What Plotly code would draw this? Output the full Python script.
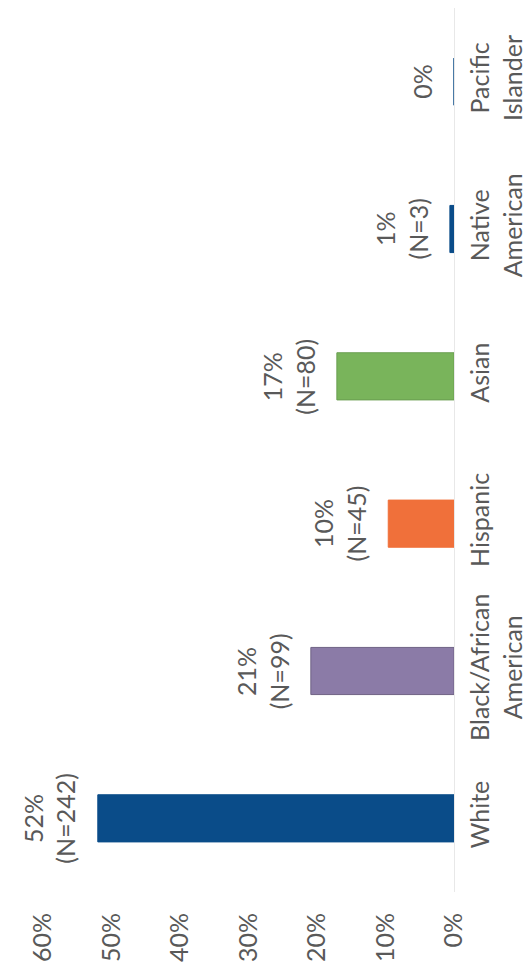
import plotly.graph_objects as go

categories = ["White", "Black/African<br>American", "Hispanic", "Asian", "Native<br>American", "Pacific<br>Islander"]
percent = [52.0, 20.9, 9.6, 17.1, 0.6, 0.0]
counts = [242, 99, 45, 80, 3, 0]
pct_labels = ["52%", "21%", "10%", "17%", "1%", "0%"]
bar_colors = ["#0a4c89", "#8b7ba7", "#f0703a", "#79b45b", "#0a4c89", "#0a4c89"]
line_colors = ["#0a4c89", "#6f6384", "#f0703a", "#6a9e50", "#0a4c89", "#0a4c89"]
tick_vals = [0, 10, 20, 30, 40, 50, 60]
tick_text = ["0%", "10%", "20%", "30%", "40%", "50%", "60%"]

texts = [f"{p}<br>(N={n})" if n > 0 else p for p, n in zip(pct_labels, counts)]

FONT = "Lato"
GRAY = "#595959"
FS = 25

fig = go.Figure(go.Bar(
    x=percent,
    y=categories,
    orientation="h",
    marker=dict(color=bar_colors, line=dict(color=line_colors, width=1)),
    width=0.32,
    hoverinfo="skip",
))

for cat, val, txt in zip(categories, percent, texts):
    fig.add_annotation(
        x=val, y=cat, xref="x", yref="y",
        text=txt, showarrow=False, textangle=-90,
        xanchor="right", yanchor="middle", xshift=-15, align="center",
        font=dict(family=FONT, size=FS, color=GRAY),
    )

fig.update_layout(
    width=532, height=973,
    margin=dict(l=35, r=86, t=0, b=89),
    paper_bgcolor="white", plot_bgcolor="white",
    showlegend=False,
    font=dict(family=FONT, size=FS, color=GRAY),
    xaxis=dict(
        range=[60, 0], tickvals=tick_vals, ticktext=tick_text,
        tickangle=-90, showgrid=False, zeroline=False, showline=False,
        ticks="outside", ticklen=10, tickcolor="rgba(0,0,0,0)",
        tickfont=dict(family=FONT, size=FS, color=GRAY),
        automargin=False, fixedrange=True,
    ),
    yaxis=dict(
        side="right", tickangle=-90, showgrid=False, zeroline=False,
        showline=True, linecolor="#e8e8e8", linewidth=1,
        ticks="outside", ticklen=4, tickcolor="rgba(0,0,0,0)",
        tickfont=dict(family=FONT, size=FS, color=GRAY),
        categoryorder="array", categoryarray=categories,
        automargin=False, fixedrange=True,
    ),
)

fig.write_html("out.html")
